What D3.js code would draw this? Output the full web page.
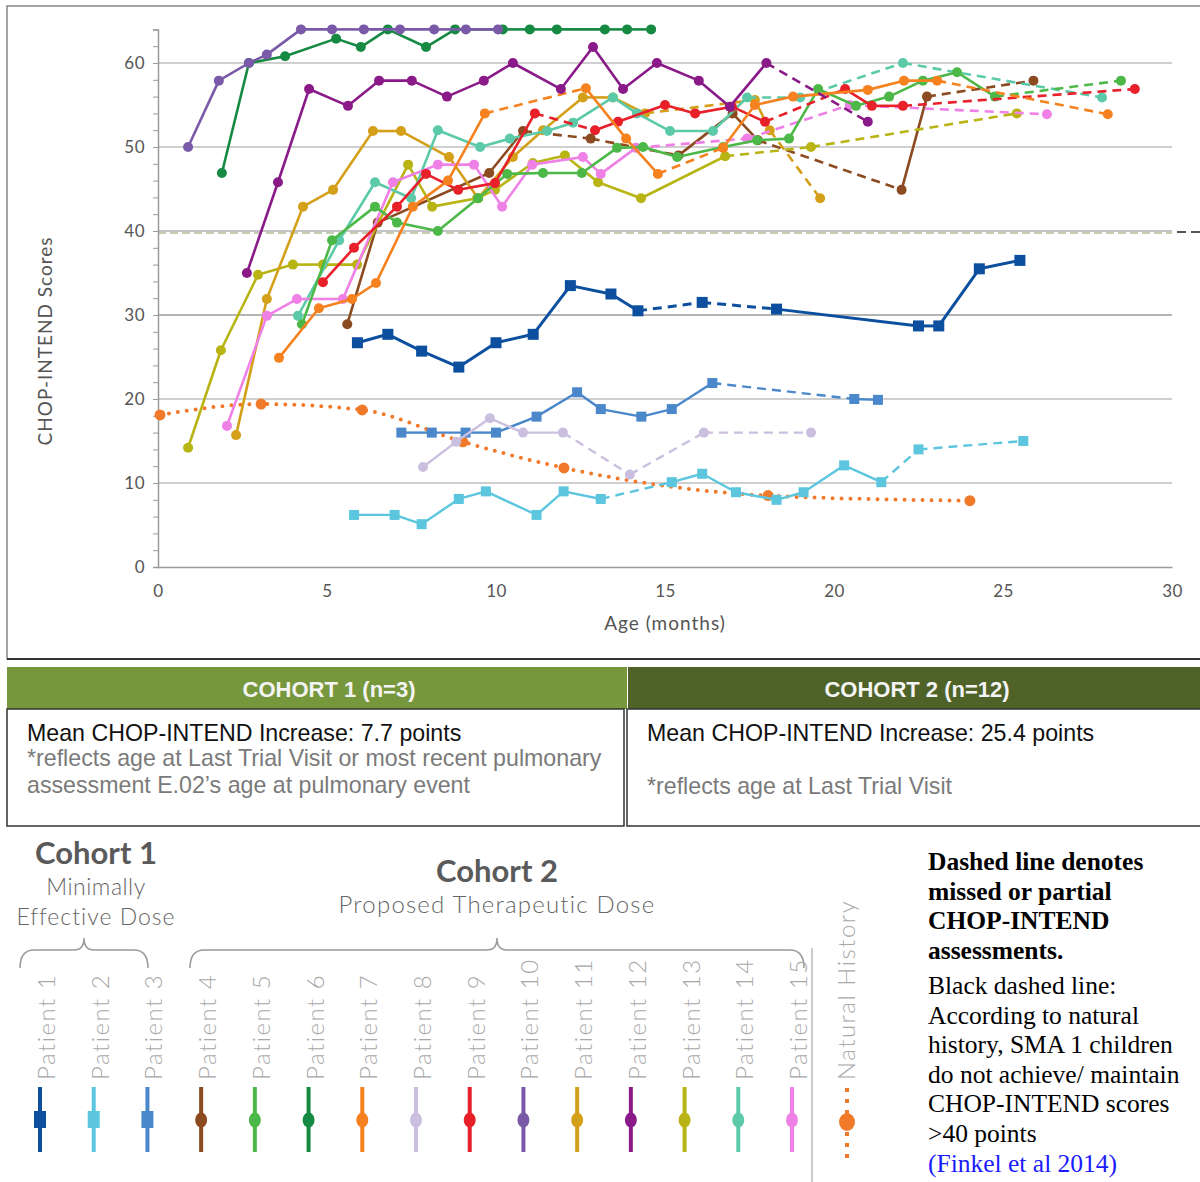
<!DOCTYPE html>
<html><head><meta charset="utf-8">
<script src="https://cdn.jsdelivr.net/npm/d3@7"></script>
<style>
html,body{margin:0;padding:0;background:#fff;}
svg{display:block;}
</style></head>
<body>
<svg id="chart" width="1200" height="1182"></svg>
<script>
// ---------------- DATA ----------------
const xTicks = [0, 5, 10, 15, 20, 25, 30];
const yTicks = [0, 10, 20, 30, 40, 50, 60];
const patientNames = ["Patient 1","Patient 2","Patient 3","Patient 4","Patient 5","Patient 6","Patient 7","Patient 8","Patient 9","Patient 10","Patient 11","Patient 12","Patient 13","Patient 14","Patient 15"];
const patientColors = ["#0b4f9e","#5cc6de","#4a88cb","#8b4a1f","#4cb848","#168a42","#f5821f","#cbbfe0","#e8202a","#7a5aa8","#d4a01a","#8b1a89","#b8b414","#5ccaa8","#ef80e6"];
const markerShapes = ["square","square","square","circle","circle","circle","circle","circle","circle","circle","circle","circle","circle","circle","circle"];
const naturalColor = "#f07a2a";

// [age (months), CHOP-INTEND score]; *Dashed = indices of points whose incoming segment is dashed
const patient1 = [[5.9,26.7],[6.8,27.7],[7.8,25.7],[8.9,23.8],[10.0,26.7],[11.1,27.7],[12.2,33.5],[13.4,32.5],[14.2,30.5],[16.1,31.5],[18.3,30.7],[22.5,28.7],[23.1,28.7],[24.3,35.5],[25.5,36.5]];
const patient1Dashed = [9,10];
const patient2 = [[5.8,6.2],[7.0,6.2],[7.8,5.1],[8.9,8.1],[9.7,9.0],[11.2,6.2],[12.0,9.0],[13.1,8.1],[15.2,10.1],[16.1,11.1],[17.1,8.9],[18.3,8.0],[19.1,8.9],[20.3,12.1],[21.4,10.1],[22.5,14.0],[25.6,15.0]];
const patient2Dashed = [8,15,16];
const patient3 = [[7.2,16.0],[8.1,16.0],[9.1,16.0],[10.0,16.0],[11.2,17.9],[12.4,20.8],[13.1,18.8],[14.3,17.9],[15.2,18.8],[16.4,21.9],[20.6,20.0],[21.3,19.9]];
const patient3Dashed = [10];
const patient4 = [[5.6,28.9],[6.5,41.0],[9.8,46.9],[10.8,51.9],[12.8,51.0],[15.4,49.0],[17.0,54.0],[17.75,50.8],[22.0,44.9],[22.75,56.0],[25.9,57.9]];
const patient4Dashed = [4,5,8,10];
const patient5 = [[4.26,28.9],[5.15,38.9],[6.42,42.9],[7.07,41.0],[8.28,40.0],[9.47,43.9],[10.33,46.8],[11.39,46.9],[12.54,46.9],[13.58,49.9],[14.35,50.0],[15.36,48.8],[16.72,50.0],[17.72,50.8],[18.67,51.0],[19.53,56.9],[20.65,54.9],[21.63,56.0],[22.63,57.9],[23.64,58.9],[24.76,56.0],[28.49,57.9]];
const patient5Dashed = [21];
const patient6 = [[1.89,46.9],[2.69,60.0],[3.76,60.8],[5.27,62.9],[6.0,61.9],[6.8,64],[7.93,61.9],[8.79,64],[10.2,64],[11.0,64],[11.8,64],[13.22,64],[13.88,64],[14.59,64]];
const patient6Dashed = [];
const patient7 = [[3.58,24.9],[4.76,30.8],[5.74,31.9],[6.45,33.8],[7.54,42.9],[8.58,46.0],[9.67,54.0],[12.66,57.0],[13.85,51.0],[14.79,46.8],[16.72,49.9],[17.66,55.0],[18.79,56.0],[21.0,56.8],[22.07,57.9],[23.05,57.9],[28.1,53.9]];
const patient7Dashed = [7,10,16];
const patient8 = [[7.84,11.9],[8.82,14.9],[9.82,17.7],[10.8,16.0],[11.98,16.0],[13.96,11.0],[16.15,16.0],[19.32,16.0]];
const patient8Dashed = [5,6,7];
const patient9 = [[4.88,33.9],[5.8,38.0],[7.07,42.9],[7.93,46.8],[8.88,44.9],[9.97,45.7],[11.15,54.0],[12.93,52.0],[13.61,53.0],[15.0,55.0],[15.89,54.0],[16.98,54.8],[17.96,53.0],[20.33,56.9],[21.12,54.9],[22.04,54.9],[28.9,56.9]];
const patient9Dashed = [7,13,16];
const patient10 = [[0.89,50.0],[1.8,57.9],[2.69,60.0],[3.22,61.0],[4.23,64],[5.15,64],[6.09,64],[7.16,64],[8.17,64],[9.11,64],[10.06,64]];
const patient10Dashed = [];
const patient11 = [[2.31,15.7],[3.22,31.9],[4.29,42.9],[5.18,44.9],[6.36,51.9],[7.19,51.9],[8.61,48.8],[9.47,43.9],[10.5,48.8],[11.39,52.0],[12.57,55.9],[13.46,55.9],[14.41,54.0],[17.66,55.6],[18.1,52.0],[19.59,43.9]];
const patient11Dashed = [13,15];
const patient12 = [[2.63,35.0],[3.55,45.8],[4.47,56.9],[5.62,54.9],[6.54,57.9],[7.51,57.9],[8.55,56.0],[9.64,57.9],[10.5,60.0],[11.92,56.9],[12.87,61.9],[13.76,56.9],[14.76,60.0],[16.0,57.9],[16.92,54.8],[18.0,60.0],[21.0,53.0]];
const patient12Dashed = [16];
const patient13 = [[0.89,14.2],[1.86,25.8],[2.96,34.8],[3.99,36.0],[4.88,36.0],[5.89,36.0],[7.4,47.9],[8.11,42.9],[9.44,43.9],[9.97,44.9],[11.09,48.1],[12.04,49.0],[13.02,45.8],[14.29,43.9],[16.78,48.9],[19.32,50.0],[25.41,54.0]];
const patient13Dashed = [15,16];
const patient14 = [[4.14,29.9],[5.36,38.9],[6.42,45.8],[7.49,43.9],[8.28,52.0],[9.53,50.0],[10.41,51.0],[11.51,51.9],[12.28,52.9],[13.46,55.9],[14.17,54.0],[15.15,51.9],[16.42,51.9],[17.43,55.9],[19.0,55.9],[22.04,60.0],[27.93,55.9]];
const patient14Dashed = [14,15,16];
const patient15 = [[2.04,16.8],[3.22,29.9],[4.11,31.9],[5.47,31.9],[6.95,45.8],[8.28,47.9],[9.35,47.9],[10.18,42.9],[11.07,47.9],[12.57,48.8],[13.1,46.8],[14.14,49.9],[17.43,51.0],[20.47,55.0],[26.3,53.9]];
const patient15Dashed = [12,13,14];
const naturalHistory = [[0.06,18.1],[3.05,19.4],[6.04,18.7],[9.02,14.9],[12.01,11.8],[18.05,8.5],[24.02,7.9]];

const patientSeries = [patient1,patient2,patient3,patient4,patient5,patient6,patient7,patient8,patient9,patient10,patient11,patient12,patient13,patient14,patient15];
const patientDashed = [patient1Dashed,patient2Dashed,patient3Dashed,patient4Dashed,patient5Dashed,patient6Dashed,patient7Dashed,patient8Dashed,patient9Dashed,patient10Dashed,patient11Dashed,patient12Dashed,patient13Dashed,patient14Dashed,patient15Dashed];

const cohortHeaders = ["COHORT 1 (n=3)", "COHORT 2 (n=12)"];
const noteLinesBold = ["Dashed line denotes","missed or partial","CHOP-INTEND","assessments."];
const noteLines = ["Black dashed line:","According to natural","history, SMA 1 children","do not achieve/ maintain","CHOP-INTEND scores",">40 points"];

// ---------------- DRAW ----------------
const svg = d3.select("#chart");
const gothic = "Lato, 'Open Sans', sans-serif";
const narrow = "'Liberation Sans Narrow', 'Arial Narrow', 'Liberation Sans', sans-serif";

// chart frame
svg.append("rect").attr("x",7).attr("y",6).attr("width",1210).attr("height",653)
  .attr("fill","#fff").attr("stroke","#6a6a6a").attr("stroke-width",1.2);
svg.append("line").attr("x1",7).attr("x2",1200).attr("y1",659).attr("y2",659).attr("stroke","#333").attr("stroke-width",2);

const x = d3.scaleLinear().domain([0,30]).range([158,1172]);
const y = d3.scaleLinear().domain([0,60]).range([567,63]);

// gridlines
const gridStyle = {10:"#cfcfcf",20:"#cfcfcf",30:"#6b6b6b",40:"#8a8a8a",50:"#cfcfcf",60:"#cfcfcf"};
yTicks.filter(v=>v>0).forEach(v=>{
  svg.append("line").attr("x1",x(0)).attr("x2",x(30)).attr("y1",y(v)).attr("y2",y(v))
    .attr("stroke",gridStyle[v]).attr("stroke-width",v===30||v===40?1.2:2);
});
svg.append("line").attr("x1",x(0)).attr("x2",x(30)).attr("y1",y(40)+2).attr("y2",y(40)+2)
  .attr("stroke","#c4ceb4").attr("stroke-width",2).attr("stroke-dasharray","8,4");
svg.append("line").attr("x1",x(30)+5).attr("x2",1200).attr("y1",y(40)+1).attr("y2",y(40)+1)
  .attr("stroke","#555").attr("stroke-width",2).attr("stroke-dasharray","9,5");

// axes
const yAxisScale = d3.scaleLinear().domain([0,64]).range([y(0), y(64)]);
const yAxis = svg.append("g").attr("transform",`translate(${x(0)},0)`)
  .call(d3.axisLeft(yAxisScale).tickValues(d3.range(0,65,2)).tickSize(5).tickPadding(8)
    .tickFormat(d => yTicks.includes(d) ? d : ""));
yAxis.select(".domain").attr("stroke","#9a9a9a").attr("stroke-width",1.5);
yAxis.selectAll(".tick line").attr("stroke","#9a9a9a");
yAxis.selectAll("text").attr("font-family",gothic).attr("font-size",17).attr("fill","#555").attr("letter-spacing",0.5);

const xAxis = svg.append("g").attr("transform",`translate(0,${y(0)})`)
  .call(d3.axisBottom(x).tickValues(xTicks).tickSize(0).tickPadding(18));
xAxis.select(".domain").attr("stroke","#9a9a9a").attr("stroke-width",1.5);
xAxis.selectAll("text").attr("font-family",gothic).attr("font-size",17).attr("fill","#555").attr("letter-spacing",0.5);

svg.append("text").attr("x",665).attr("y",630).attr("text-anchor","middle")
  .attr("font-family",gothic).attr("font-size",19).attr("letter-spacing",1).attr("fill","#555").text("Age (months)");
svg.append("text").attr("transform","translate(52,341) rotate(-90)").attr("text-anchor","middle")
  .attr("font-family",gothic).attr("font-size",19).attr("letter-spacing",1).attr("fill","#555").text("CHOP-INTEND Scores");

// natural history (dotted, smooth)
const nhLine = d3.line().x(d=>x(d[0])).y(d=>y(d[1])).curve(d3.curveMonotoneX);
svg.append("path").attr("d",nhLine(naturalHistory)).attr("fill","none")
  .attr("stroke",naturalColor).attr("stroke-width",4).attr("stroke-linecap","round").attr("stroke-dasharray","0,9");
svg.selectAll(".nh").data(naturalHistory).enter().append("circle")
  .attr("cx",d=>x(d[0])).attr("cy",d=>y(d[1])).attr("r",5.5).attr("fill",naturalColor);

// patient series
const seg = d3.line().x(d=>x(d[0])).y(d=>y(d[1]));
const drawOrder = [2,1,0,7,3,12,10,13,14,4,8,6,11,5,9];
drawOrder.forEach(i=>{
  const data = patientSeries[i], dashed = patientDashed[i], col = patientColors[i];
  const g = svg.append("g");
  const sw = (i===0) ? 3 : (i===7||i===2||i===1) ? 2.4 : 2.6;
  for (let k=1;k<data.length;k++){
    g.append("path").attr("d",seg([data[k-1],data[k]])).attr("fill","none")
      .attr("stroke",col).attr("stroke-width",sw)
      .attr("stroke-dasharray",dashed.includes(k)?"9,6":null);
  }
  if (markerShapes[i]==="square"){
    const s = i===0 ? 11 : 10;
    g.selectAll("rect").data(data).enter().append("rect")
      .attr("x",d=>x(d[0])-s/2).attr("y",d=>y(d[1])-s/2).attr("width",s).attr("height",s).attr("fill",col);
  } else {
    g.selectAll("circle").data(data).enter().append("circle")
      .attr("cx",d=>x(d[0])).attr("cy",d=>y(d[1])).attr("r",5).attr("fill",col);
  }
});

// cohort summary boxes
const headerColors = ["#77973d","#4f6228"];
const hx = [[7,620],[628,600]];
cohortHeaders.forEach((t,i)=>{
  svg.append("rect").attr("x",hx[i][0]).attr("y",667).attr("width",hx[i][1]).attr("height",42).attr("fill",headerColors[i]);
  svg.append("text").attr("x",hx[i][0]+ (i===0?322:289)).attr("y",697).attr("text-anchor","middle")
    .attr("font-family",narrow).attr("font-size",22).attr("font-weight",700).attr("fill","#f4f4f4").text(t);
});
svg.append("rect").attr("x",7).attr("y",709).attr("width",617).attr("height",117).attr("fill","none").attr("stroke","#333").attr("stroke-width",1.5);
svg.append("rect").attr("x",627).attr("y",709).attr("width",600).attr("height",117).attr("fill","none").attr("stroke","#333").attr("stroke-width",1.5);
const boxText = [
  {x:27,y:741,t:"Mean CHOP-INTEND Increase: 7.7 points",c:"#111"},
  {x:27,y:766,t:"*reflects age at Last Trial Visit or most recent pulmonary",c:"#7a7a7a"},
  {x:27,y:793,t:"assessment E.02\u2019s age at pulmonary event",c:"#7a7a7a"},
  {x:647,y:741,t:"Mean CHOP-INTEND Increase: 25.4 points",c:"#111"},
  {x:647,y:794,t:"*reflects age at Last Trial Visit",c:"#7a7a7a"}
];
boxText.forEach(d=>svg.append("text").attr("x",d.x).attr("y",d.y).attr("font-family",narrow)
  .attr("font-size",23.2).attr("fill",d.c).text(d.t));

// legend titles
const lg = svg.append("g").attr("font-family",gothic).attr("text-anchor","middle");
lg.append("text").attr("x",96).attr("y",864).attr("font-size",31).attr("font-weight",700).attr("fill","#5a5a5a").text("Cohort 1");
lg.append("text").attr("x",96).attr("y",895).attr("font-size",23).attr("font-weight",300).attr("letter-spacing",0.5).attr("fill","#666").text("Minimally");
lg.append("text").attr("x",96).attr("y",925).attr("font-size",23).attr("font-weight",300).attr("letter-spacing",1).attr("fill","#666").text("Effective Dose");
lg.append("text").attr("x",497).attr("y",882).attr("font-size",31).attr("font-weight",700).attr("fill","#5a5a5a").text("Cohort 2");
lg.append("text").attr("x",497).attr("y",913).attr("font-size",24).attr("font-weight",300).attr("letter-spacing",1.2).attr("fill","#666").text("Proposed Therapeutic Dose");

// braces
function brace(x0,x1,xm,yTop,yEnd){
  return `M${x0},${yEnd} Q${x0},${yTop+12} ${x0+14},${yTop+12} L${xm-10},${yTop+12} Q${xm},${yTop+12} ${xm},${yTop}`+
         ` Q${xm},${yTop+12} ${xm+10},${yTop+12} L${x1-14},${yTop+12} Q${x1},${yTop+12} ${x1},${yEnd}`;
}
svg.append("path").attr("d",brace(20,148,84,938,968)).attr("fill","none").attr("stroke","#999").attr("stroke-width",1.5);
svg.append("path").attr("d",brace(190,804,497,938,968)).attr("fill","none").attr("stroke","#999").attr("stroke-width",1.5);

// patient legend
const px = d3.scalePoint().domain(patientNames).range([40,792]);
patientNames.forEach((n,i)=>{
  const cx = px(n);
  svg.append("text").attr("transform",`translate(${cx+15},1080) rotate(-90)`)
    .attr("font-family",gothic).attr("font-size",24).attr("font-weight",300).attr("letter-spacing",1.5)
    .attr("fill","#a8a8a8").text(n);
  svg.append("line").attr("x1",cx).attr("x2",cx).attr("y1",1087).attr("y2",1152)
    .attr("stroke",patientColors[i]).attr("stroke-width",4);
  if (markerShapes[i]==="square"){
    svg.append("rect").attr("x",cx-6).attr("y",1111).attr("width",12).attr("height",17).attr("fill",patientColors[i]);
  } else {
    svg.append("ellipse").attr("cx",cx).attr("cy",1120).attr("rx",6).attr("ry",7.5).attr("fill",patientColors[i]);
  }
});
svg.append("line").attr("x1",812).attr("x2",812).attr("y1",948).attr("y2",1182).attr("stroke","#bbb").attr("stroke-width",1.5);
svg.append("text").attr("transform",`translate(855,1080) rotate(-90)`)
  .attr("font-family",gothic).attr("font-size",24).attr("font-weight",300).attr("letter-spacing",1.5)
  .attr("fill","#a8a8a8").text("Natural History");
svg.append("line").attr("x1",847).attr("x2",847).attr("y1",1088).attr("y2",1160)
  .attr("stroke",naturalColor).attr("stroke-width",4).attr("stroke-dasharray","4,7");
svg.append("ellipse").attr("cx",847).attr("cy",1122).attr("rx",8).attr("ry",9).attr("fill",naturalColor);

// notes
const nt = svg.append("g").attr("font-family","'Liberation Serif','Times New Roman',serif").attr("font-size",25.5);
noteLinesBold.forEach((t,i)=>nt.append("text").attr("x",928).attr("y",870+i*29.7).attr("font-weight",700).attr("fill","#000").text(t));
noteLines.forEach((t,i)=>nt.append("text").attr("x",928).attr("y",994+i*29.6).attr("fill","#000").text(t));
nt.append("text").attr("x",928).attr("y",1172).attr("fill","#1a1aff").text("(Finkel et al 2014)");
</script>
</body></html>
